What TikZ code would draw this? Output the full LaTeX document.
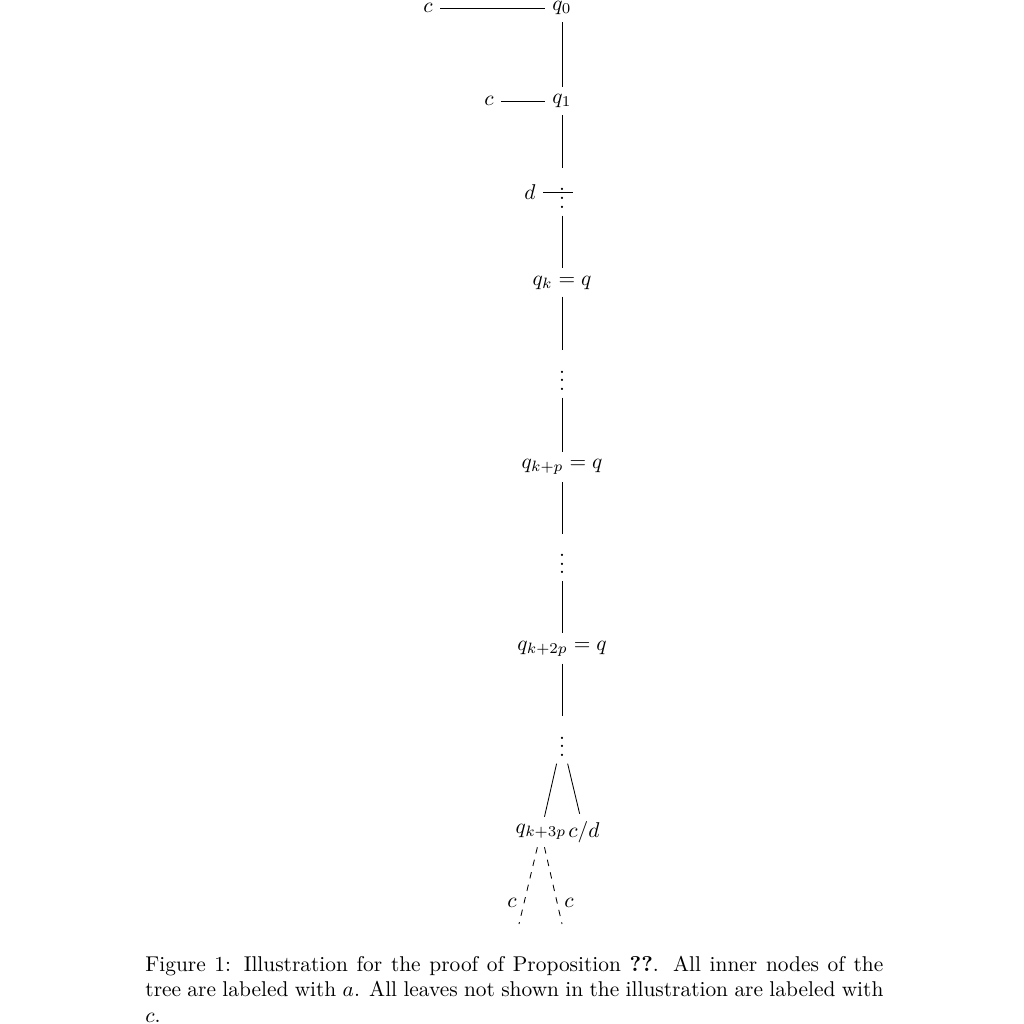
\documentclass[tikz,border=0pt]{standalone}
\usetikzlibrary{calc}
\begin{document}
\begin{tikzpicture}[x=0.4675pt,y=-0.4675pt,
  lbl/.style={inner sep=3.333pt},
  edge/.style={draw,line width=0.4pt},
  dedge/.style={draw,line width=0.4pt,dashed}]
\useasboundingbox (0,0) rectangle (1024,1024);
% nodes
\node[lbl] (c0) at (428,8) {$c$};
\node[lbl] (q0) at (562,8) {$q_0$};
\node[lbl] (c1) at (489,101) {$c$};
\node[lbl] (q1) at (562,101) {$q_1$};
\node[lbl] (d) at (530,192) {$d$};
\node[lbl] (vd1) at (562,192) {$\vdots$};
\node[lbl] (qk) at (562,282.5) {$q_k = q$};
\node[lbl] (vd2) at (562,374) {$\vdots$};
\node[lbl] (qkp) at (562,467) {$q_{k+p} = q$};
\node[lbl] (vd3) at (562,557.5) {$\vdots$};
\node[lbl] (qk2p) at (562,648.5) {$q_{k+2p} = q$};
\node[lbl] (vd4) at (562,740) {$\vdots$};
\node[lbl] (qk3p) at (541,832) {$q_{k+3p}$};
\node[lbl] (cd) at (584,832) {$c/d$};
\coordinate (l1) at (519,924);
\coordinate (l2) at (562,924);
\node[lbl] (cl1) at (512,903) {$c$};
\node[lbl] (cl2) at (569,903) {$c$};
% connectors
\path[edge] (c0) -- (q0);
\path[edge] (q0) -- (q1);
\path[edge] (c1) -- (q1);
\path[edge] (q1) -- (vd1);
\path[edge] (d.east) -- (vd1.east);
\path[edge] (vd1) -- (qk);
\path[edge] (qk) -- (vd2);
\path[edge] (vd2) -- (qkp);
\path[edge] (qkp) -- (vd3);
\path[edge] (vd3) -- (qk2p);
\path[edge] (qk2p) -- (vd4);
\path[edge] (vd4) -- (qk3p);
\path[edge] (vd4) -- (cd);
\path[dedge] (qk3p) -- (l1);
\path[dedge] (qk3p) -- (l2);
% caption
\node[anchor=base west,inner sep=0pt,text width=345pt,align=justify,font=\normalsize] (cap) at (145,971)
  {\noindent Figure 1: Illustration for the proof of Proposition \textbf{??}. All inner nodes of the tree are labeled with $a$. All leaves not shown in the illustration are labeled with $c$.};
\end{tikzpicture}
\end{document}
